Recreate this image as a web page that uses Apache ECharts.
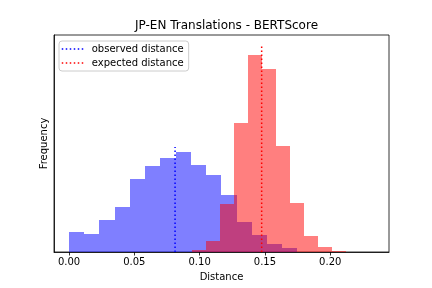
<!DOCTYPE html>
<html>
<head>
<meta charset="utf-8">
<script src="https://cdn.jsdelivr.net/npm/echarts@6/dist/echarts.min.js"></script>
<style>html,body{margin:0;padding:0;background:#fff}#c{width:432px;height:288px}</style>
</head>
<body>
<div id="c"></div>
<script>
// Observed (blue) histogram: bin edges and counts
var observedEdges = [0, 0.0117, 0.0233, 0.0350, 0.0466, 0.0583, 0.0700, 0.0816, 0.0933, 0.1049, 0.1166, 0.1283, 0.1399, 0.1516, 0.1632, 0.1749, 0.1866, 0.1982, 0.2099, 0.2215, 0.2332];
var observedCounts = [60, 54, 96, 135, 219, 258, 283, 300, 261, 230, 171, 90, 52, 24, 12, 0, 0, 0, 0, 0];
// Expected (red) histogram: bin edges and counts
var expectedEdges = [0.0944, 0.1051, 0.1158, 0.1265, 0.1372, 0.1479, 0.1586, 0.1693, 0.1800, 0.1907, 0.2014, 0.2121];
var expectedCounts = [6, 33, 144, 386, 591, 549, 318, 147, 48, 15, 3];
// Mean distances (dotted lines)
var observedMean = 0.0812;
var expectedMean = 0.1475;
var xTicks = [0, 0.05, 0.10, 0.15, 0.20];
var seriesNames = ['observed distance', 'expected distance'];

function bins(edges, counts) {
  var out = [];
  for (var i = 0; i < counts.length; i++) out.push([edges[i], edges[i + 1], counts[i]]);
  return out;
}
function maxOf(a) { return Math.max.apply(null, a); }

function renderBar(params, api) {
  var p0 = api.coord([api.value(0), api.value(2)]);
  var p1 = api.coord([api.value(1), 0]);
  var x0 = Math.round(p0[0]), x1 = Math.round(p1[0]);
  var y0 = Math.round(p0[1]), y1 = Math.round(p1[1]);
  return {
    type: 'rect',
    shape: { x: x0, y: y0, width: x1 - x0, height: y1 - y0 },
    style: api.style()
  };
}

var obsTop = maxOf(observedCounts) * 1.05;
var expTop = maxOf(expectedCounts) * 1.05;
var yMax = expTop * 1.05;

var chart = echarts.init(document.getElementById('c'), null, { renderer: 'canvas' });
chart.setOption({
  animation: false,
  backgroundColor: '#fff',
  title: {
    text: 'JP-EN Translations - BERTScore',
    left: 221.5, top: 15, textAlign: 'center',
    textStyle: { fontFamily: 'DejaVu Sans', fontSize: 12, fontWeight: 'normal', color: '#000' }
  },
  grid: { left: 54, right: 43, top: 35, bottom: 36, show: true, borderColor: '#000', borderWidth: 0.8, backgroundColor: 'transparent' },
  legend: {
    orient: 'vertical', left: 59, top: 41,
    data: seriesNames,
    itemWidth: 22, itemHeight: 10, itemGap: 4,
    padding: [3, 5, 3, 2],
    borderColor: '#ccc', borderWidth: 1, borderRadius: 3,
    backgroundColor: 'rgba(255,255,255,0.8)',
    itemStyle: { opacity: 0 },
    lineStyle: { width: 1.5, type: [1.5, 2.5] },
    textStyle: { fontFamily: 'DejaVu Sans', fontSize: 10, color: '#000', padding: [0, 0, 0, 3] }
  },
  xAxis: {
    type: 'value', min: -0.0115, max: 0.245,
    name: 'Distance', nameLocation: 'middle', nameGap: 20,
    nameTextStyle: { fontFamily: 'DejaVu Sans', fontSize: 10, color: '#000' },
    axisLine: { show: true, onZero: false, lineStyle: { color: '#000', width: 0.8 } },
    axisTick: { show: true, length: 3.5, lineStyle: { color: '#000', width: 0.8 }, customValues: xTicks },
    axisLabel: { customValues: xTicks, margin: 5, fontFamily: 'DejaVu Sans', fontSize: 10, color: '#000',
      formatter: function (v) { return v.toFixed(2); } },
    splitLine: { show: false }
  },
  yAxis: {
    type: 'value', min: 0, max: yMax,
    name: 'Frequency', nameLocation: 'middle', nameGap: 5, nameRotate: 90,
    nameTextStyle: { fontFamily: 'DejaVu Sans', fontSize: 10, color: '#000' },
    axisLine: { show: true, onZero: false, lineStyle: { color: '#000', width: 0.8 } },
    axisTick: { show: false }, axisLabel: { show: false }, splitLine: { show: false }
  },
  series: [
    { type: 'custom', name: 'obsHist', renderItem: renderBar, data: bins(observedEdges, observedCounts),
      itemStyle: { color: 'rgba(0,0,255,0.5)' }, encode: { x: [0, 1], y: 2 }, z: 2 },
    { type: 'custom', name: 'expHist', renderItem: renderBar, data: bins(expectedEdges, expectedCounts),
      itemStyle: { color: 'rgba(255,0,0,0.5)' }, encode: { x: [0, 1], y: 2 }, z: 3 },
    { type: 'line', name: seriesNames[0], data: [[observedMean, 0], [observedMean, obsTop]],
      symbol: 'none', color: '#0000ff', lineStyle: { color: '#0000ff', width: 1.5, type: [1.5, 2.5] }, z: 5 },
    { type: 'line', name: seriesNames[1], data: [[expectedMean, 0], [expectedMean, expTop]],
      symbol: 'none', color: '#ff0000', lineStyle: { color: '#ff0000', width: 1.5, type: [1.5, 2.5] }, z: 5 }
  ]
});
</script>
</body>
</html>
